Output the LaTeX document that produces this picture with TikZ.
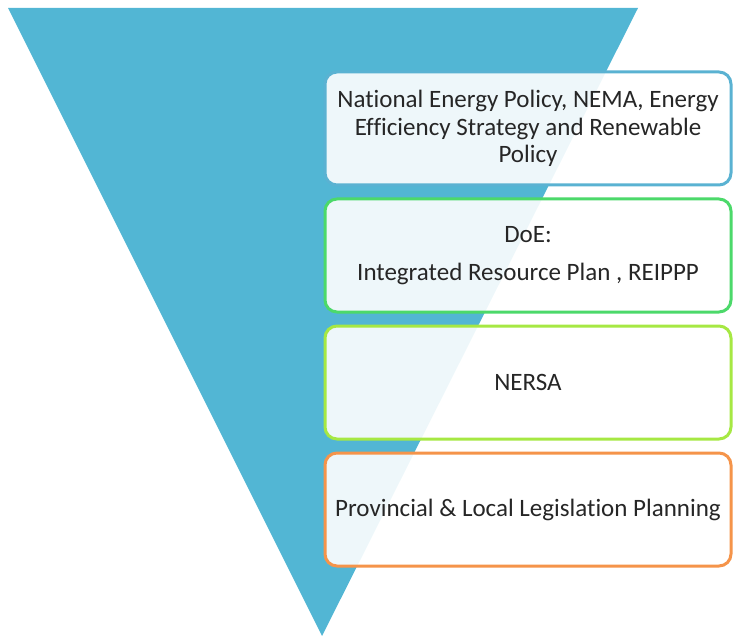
\documentclass[tikz,border=0pt]{standalone}
\usepackage{fontspec}
\setmainfont{Carlito}[Ligatures=NoCommon]
\usepackage{tikz}
\usetikzlibrary{positioning}

\definecolor{funnelblue}{HTML}{52B6D4}
\definecolor{levelblue}{HTML}{5AB2D2}
\definecolor{levelgreen}{HTML}{4CD96A}
\definecolor{levellime}{HTML}{A6E843}
\definecolor{levelorange}{HTML}{F5944A}

\begin{document}
\begin{tikzpicture}[x=1pt,y=-1pt,
  level/.style={draw,line width=3pt,rounded corners=12pt,fill=white,fill opacity=0.9,
    text opacity=1,text=black!85,minimum width=406pt,minimum height=113pt,align=center,
    font=\fontsize{25}{27.5}\selectfont},
  node distance=11pt]
\useasboundingbox (0,0) rectangle (733,636);
% funnel
\fill[funnelblue] (8,8) -- (638,8) -- (322,636) -- cycle;
% levels
\node[level,draw=levelblue] (policy) at (528,128.5)
  {National Energy Policy, NEMA, Energy\\Efficiency Strategy and Renewable\\Policy};
\node[level,draw=levelgreen,below=of policy] (doe)
  {DoE:\\[10.5pt]Integrated Resource Plan , REIPPP};
\node[level,draw=levellime,below=of doe] (nersa) {NERSA};
\node[level,draw=levelorange,below=of nersa] (local)
  {Provincial \& Local Legislation Planning};
\end{tikzpicture}
\end{document}
